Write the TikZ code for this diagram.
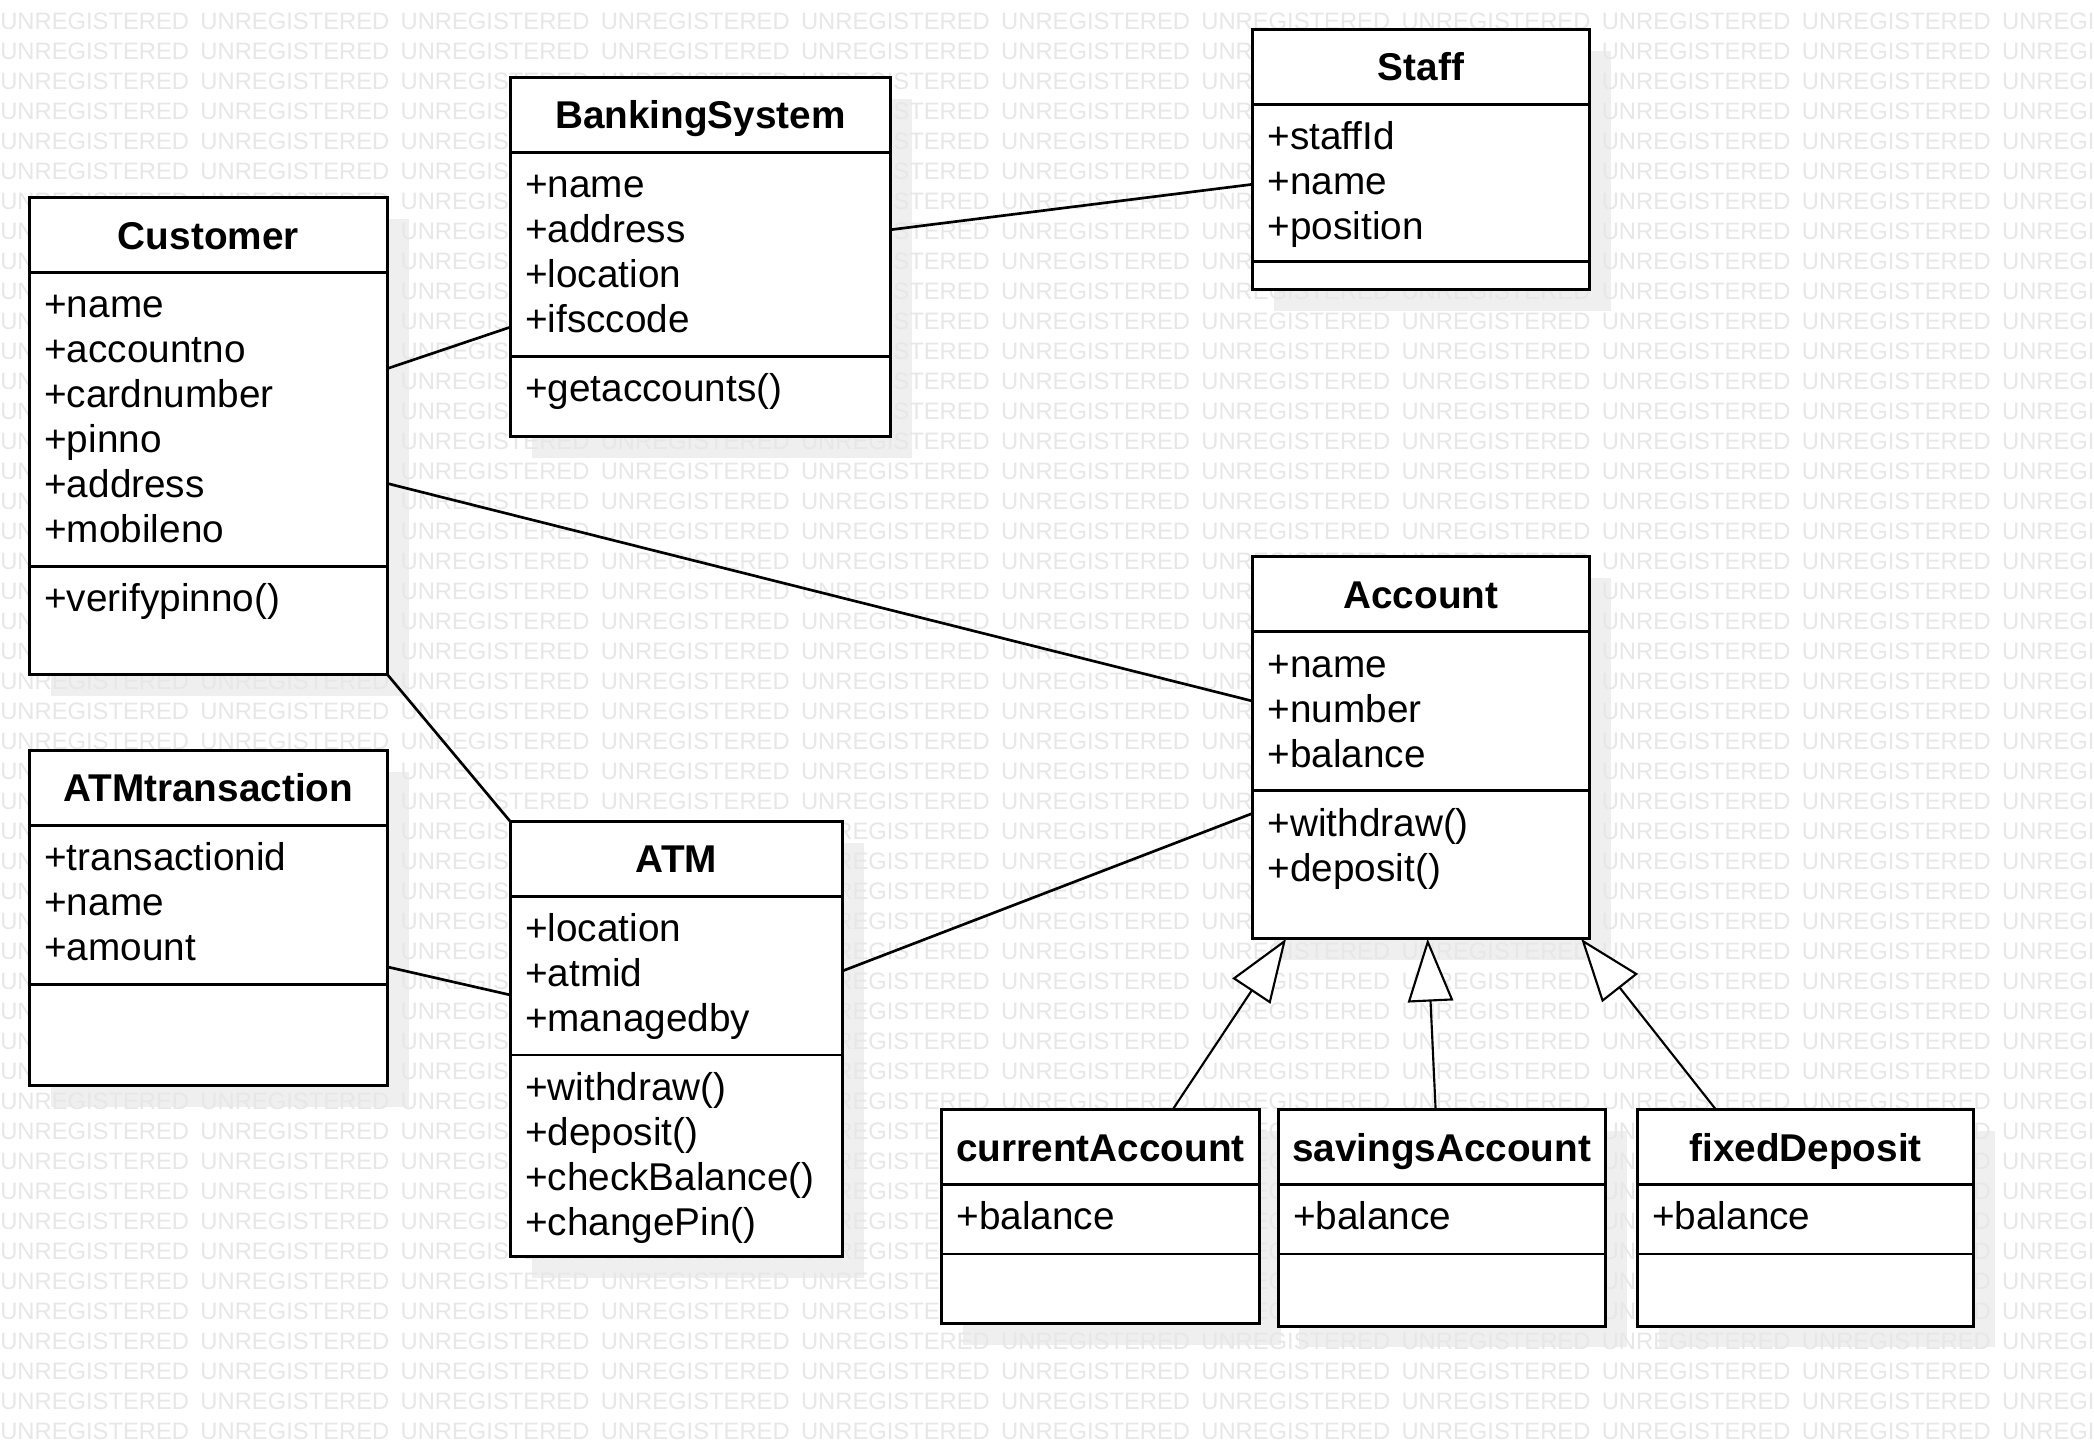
\documentclass[tikz,border=0pt]{standalone}
\usepackage{fontspec}
\setmainfont{Liberation Sans}
\usetikzlibrary{arrows.meta}
\pgfdeclarelayer{shadowl}
\pgfdeclarelayer{wml}
\pgfsetlayers{shadowl,wml,main}
\definecolor{shadowc}{HTML}{EFEFEF}
\definecolor{wmc}{HTML}{E7E7E7}
\tikzset{
  classbox/.style={draw=black, fill=white, line width=2.2pt, inner sep=0pt, outer sep=0pt, anchor=north west},
  sepline/.style={line width=2.2pt},
  ctitle/.style={font=\bfseries\fontsize{29}{34}\selectfont, anchor=base, inner sep=0pt},
  cattr/.style={font=\fontsize{29}{34}\selectfont, anchor=base west, inner sep=0pt},
  assoc/.style={line width=2pt},
  gen/.style={line width=1.6pt, -{Triangle[length=47pt,width=34pt,fill=white]}},
  wmark/.style={font=\fontsize{17.8}{18}\selectfont, text=wmc, anchor=base west, inner sep=0pt},
}
\newcommand\umlbox[7]{%
  \begin{pgfonlayer}{shadowl}
    \fill[shadowc] (#2+16,#4+16) rectangle (#3+16,#7+16);
  \end{pgfonlayer}
  \node[classbox, minimum width=#3-#2, minimum height=#7-#4] (#1) at (#2,#4) {};
  \draw[sepline] (#2,#5) -- (#3,#5);
  \draw[sepline] (#2,#6) -- (#3,#6);
}
\newcommand\umltitle[2]{\node[ctitle] (#1-t) at ([yshift=-38.5pt]#1.north) {#2};}
\newcommand\umllines[4]{%
  \foreach \s [count=\i] in {#4}
    \node[cattr] (#1\i) at ({#2+11},{#3+34+(\i-1)*33.7}) {\s};
}
\begin{document}
\begin{tikzpicture}[x=1pt,y=-1pt]
\useasboundingbox (0,0) rectangle (1568,1083);
\begin{pgfonlayer}{shadowl}
  \fill[white] (0,0) rectangle (1568,1083);
\end{pgfonlayer}
\begin{pgfonlayer}{wml}
  \begin{scope}
    \clip (0,0) rectangle (1568,1083);
    \foreach \r in {0,...,47}
      \foreach \c in {0,...,10}
        \node[wmark] (wm-\r-\c) at ({\c*149.9},{22.3+\r*22.46}) {UNREGISTERED};
  \end{scope}
\end{pgfonlayer}

% Customer
\umlbox{cust}{22}{290}{148}{204}{424}{505}
\umltitle{cust}{Customer}
\umllines{cust-a}{22}{204}{+name,+accountno,+cardnumber,+pinno,+address,+mobileno}
\umllines{cust-m}{22}{424}{+verifypinno()}

% BankingSystem
\umlbox{bank}{382}{667}{58}{114}{267}{327}
\umltitle{bank}{BankingSystem}
\umllines{bank-a}{382}{114}{+name,+address,+location,+ifsccode}
\umllines{bank-m}{382}{267}{+getaccounts()}

% Staff
\umlbox{staff}{938}{1190}{22}{78}{196}{217}
\umltitle{staff}{Staff}
\umllines{staff-a}{938}{78}{+staffId,+name,+position}

% Account
\umlbox{acct}{938}{1190}{417}{473}{592}{703}
\umltitle{acct}{Account}
\umllines{acct-a}{938}{473}{+name,+number,+balance}
\umllines{acct-m}{938}{592}{+withdraw(),+deposit()}

% ATMtransaction
\umlbox{atmt}{22}{290}{562}{618}{737}{813}
\umltitle{atmt}{ATMtransaction}
\umllines{atmt-a}{22}{618}{+transactionid,+name,+amount}

% ATM
\umlbox{atm}{382}{631}{615}{671}{790}{941}
\umltitle{atm}{ATM}
\umllines{atm-a}{382}{671}{+location,+atmid,+managedby}
\umllines{atm-m}{382}{790}{+withdraw(),+deposit(),+checkBalance(),+changePin()}

% subclasses
\umlbox{cur}{705}{943}{831}{887}{939}{991}
\umltitle{cur}{currentAccount}
\umllines{cur-a}{705}{887}{+balance}

\umlbox{sav}{957}{1202}{831}{887}{939}{993}
\umltitle{sav}{savingsAccount}
\umllines{sav-a}{957}{887}{+balance}

\umlbox{fix}{1226}{1478}{831}{887}{939}{993}
\umltitle{fix}{fixedDeposit}
\umllines{fix-a}{1226}{887}{+balance}

% associations
\draw[assoc] (cust.east |- 0,276) -- (bank.west |- 0,245);
\draw[assoc] (bank.east |- 0,172) -- (staff.west |- 0,138);
\draw[assoc] (cust.east |- 0,362) -- (acct.west |- 0,525);
\draw[assoc] (cust.south east) -- (atm.north west);
\draw[assoc] (atmt.east |- 0,724) -- (atm.west |- 0,745);
\draw[assoc] (atm.east |- 0,727) -- (acct.west |- 0,609);

% generalizations
\draw[gen] (cur.north -| 878,0) -- (acct.south -| 963,0);
\draw[gen] (sav.north -| 1075,0) -- (acct.south -| 1069,0);
\draw[gen] (fix.north -| 1285,0) -- (acct.south -| 1184,0);
\end{tikzpicture}
\end{document}
